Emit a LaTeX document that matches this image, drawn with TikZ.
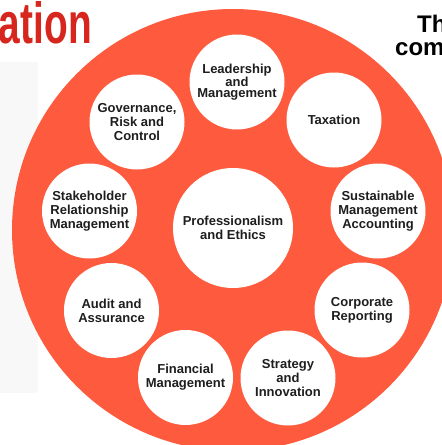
\documentclass[tikz,border=0pt]{standalone}
\usepackage{fontspec}
\usepackage{graphicx}
\setmainfont{Liberation Sans}
\definecolor{ringred}{RGB}{253,90,62}
\definecolor{titlered}{RGB}{214,38,30}
\definecolor{txt}{RGB}{30,30,30}
\definecolor{panel}{RGB}{248,248,248}
\tikzset{
  topic/.style={circle, fill=white, minimum size=95pt, inner sep=0pt, align=center,
    text=txt, font=\bfseries\fontsize{13}{14}\selectfont},
  core/.style={topic, minimum size=120pt},
}
\begin{document}
\begin{tikzpicture}[x=1pt,y=-1pt]
\useasboundingbox (0,0) rectangle (442,445);
\clip (0,0) rectangle (442,445);
\fill[panel] (0,62) rectangle (38,393);
\node[anchor=base east, inner sep=0pt, text=titlered] (title) at (92,43)
  {\scalebox{0.67}[1]{\bfseries\fontsize{58}{58}\selectfont ation}};
\node[anchor=base west, inner sep=0pt, text=black, font=\bfseries\fontsize{24}{24}\selectfont] (th) at (417,32) {Th};
\node[anchor=base west, inner sep=0pt, text=black, font=\bfseries\fontsize{24}{24}\selectfont] (com) at (395,55) {com};
\fill[ringred] (233,230) circle[radius=221];
\node[core] (prof) at (233,228) {Professionalism\\and Ethics};
\node[topic, font=\bfseries\fontsize{13}{11}\selectfont] (lead) at (237,82) {Leadership\\and\\Management};
\node[topic] (tax) at (334,120) {Taxation};
\node[topic] (sust) at (378,211) {Sustainable\\Management\\Accounting};
\node[topic] (corp) at (362,310) {Corporate\\Reporting};
\node[topic] (strat) at (288,378) {Strategy\\and\\Innovation};
\node[topic] (fin) at (185.5,377.5) {Financial\\Management};
\node[topic] (audit) at (111.5,310.5) {Audit and\\Assurance};
\node[topic] (stake) at (89.5,211) {Stakeholder\\Relationship\\Management};
\node[topic] (gov) at (137,122) {Governance,\\Risk and\\Control};
\end{tikzpicture}
\end{document}
